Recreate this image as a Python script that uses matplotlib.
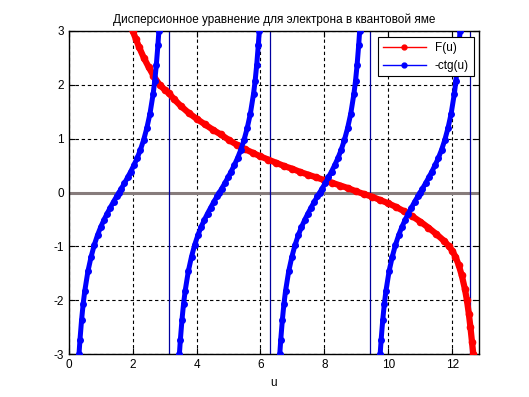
import numpy as np
import matplotlib.pyplot as plt

# F(u)
red_u = [2.00, 2.10, 2.20, 2.35, 2.50, 2.65, 2.84, 3.00, 3.14, 3.30, 3.50, 3.75,
         4.00, 4.25, 4.50, 4.75, 5.00, 5.25, 5.50, 5.75, 6.00, 6.25, 6.50, 6.75,
         7.00, 7.25, 7.50, 7.75, 8.00, 8.25, 8.50, 8.75, 9.00, 9.25, 9.50, 9.75,
         10.00, 10.25, 10.50, 10.75, 11.00, 11.25, 11.50, 11.75, 11.90, 12.00,
         12.10, 12.20, 12.30, 12.40, 12.46, 12.52, 12.57, 12.62, 12.66]
red_f = [3.00, 2.85, 2.70, 2.50, 2.33, 2.17, 2.00, 1.91, 1.84, 1.73, 1.61, 1.48,
         1.37, 1.27, 1.17, 1.08, 0.98, 0.89, 0.81, 0.74, 0.67, 0.61, 0.55, 0.49,
         0.44, 0.38, 0.33, 0.28, 0.23, 0.18, 0.13, 0.08, 0.02, -0.03, -0.08, -0.14,
         -0.20, -0.27, -0.35, -0.44, -0.54, -0.65, -0.77, -0.90, -1.00, -1.08,
         -1.19, -1.34, -1.54, -1.80, -2.00, -2.25, -2.50, -2.78, -3.00]

# -ctg(u): one branch, offsets from the left asymptote
branch_du = [0.32, 0.35, 0.40, 0.45, 0.50, 0.60, 0.70, 0.80, 0.90, 1.00, 1.10,
             1.20, 1.30, 1.40, 1.50, 1.57, 1.64, 1.74, 1.84, 1.94, 2.04, 2.14,
             2.24, 2.34, 2.44, 2.54, 2.64, 2.69, 2.74, 2.79, 2.82]
branch_y = [-3.00, -2.74, -2.37, -2.07, -1.83, -1.46, -1.19, -0.97, -0.79, -0.64,
            -0.51, -0.39, -0.28, -0.17, -0.07, 0.00, 0.07, 0.17, 0.28, 0.39, 0.51,
            0.64, 0.79, 0.97, 1.19, 1.46, 1.83, 2.07, 2.37, 2.74, 3.00]
asymptotes = [np.pi, 2 * np.pi, 3 * np.pi, 4 * np.pi]
branch_start = [0, np.pi, 2 * np.pi, 3 * np.pi]

plt.rcParams['font.family'] = ['Liberation Sans', 'DejaVu Sans']
plt.rcParams['axes.unicode_minus'] = False

fig = plt.figure(figsize=(5.29, 3.97), dpi=100)
ax = fig.add_axes([0.130, 0.108, 0.775, 0.814])

ax.axhline(0, color='#877c7c', lw=2.2, zorder=2)
for a in asymptotes:
    ax.axvline(a, color='#0000a0', lw=0.9, zorder=2)

ax.plot(red_u, red_f, color='red', lw=4.5, marker='o', ms=4.5, zorder=3, label='F(u)')
for i, s in enumerate(branch_start):
    u = [s + d for d in branch_du]
    ax.plot(u, branch_y, color='blue', lw=3.6, marker='o', ms=4, zorder=3,
            label='-ctg(u)' if i == 0 else None)

ax.set_xlim(0, 12.83)
ax.set_ylim(-3, 3)
ax.set_xticks(range(0, 13, 2))
ax.set_yticks(range(-3, 4))
ax.grid(True, color='black', ls=(0, (3, 2.5)), lw=0.8)
ax.tick_params(direction='in', length=4, labelsize=8.5, top=True, right=True)
for sp in ax.spines.values():
    sp.set_linewidth(1)

ax.set_title('Дисперсионное уравнение для электрона в квантовой яме', fontsize=8.5, pad=6)
ax.set_xlabel('u', fontsize=8.5)

leg = ax.legend(loc='upper right', bbox_to_anchor=(0.988, 0.981), borderaxespad=0,
                fontsize=8.5, handlelength=3.6, fancybox=False, framealpha=1,
                edgecolor='black')
for h in leg.legend_handles:
    h.set_linewidth(1)
    h.set_markersize(3.5)
leg.get_frame().set_linewidth(0.8)

fig.savefig('out.png', dpi=100)
